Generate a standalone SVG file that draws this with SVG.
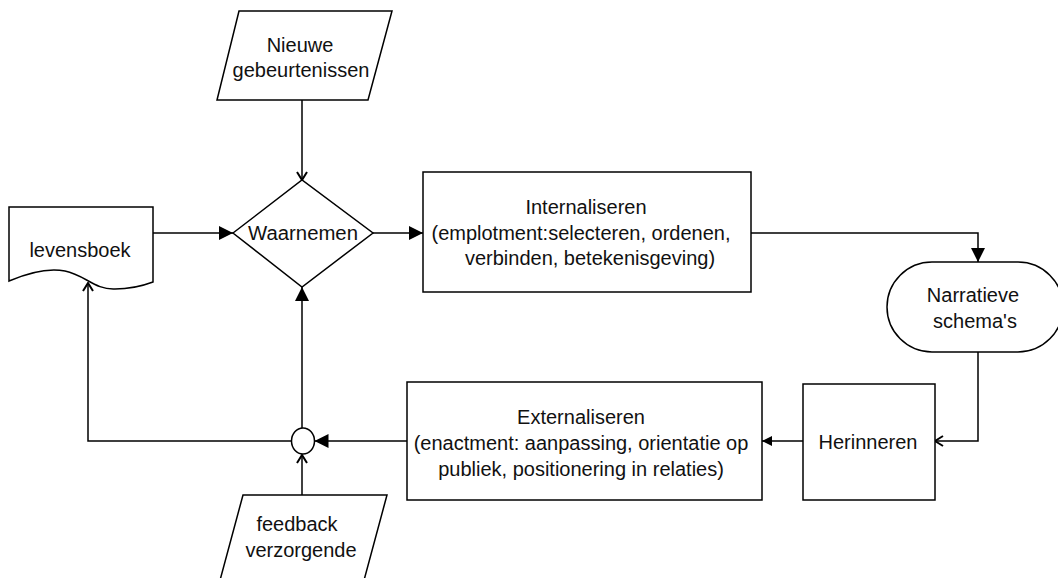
<svg xmlns="http://www.w3.org/2000/svg" width="1058" height="578" viewBox="0 0 1058 578">
<style>
.s{fill:#fff;stroke:#000;stroke-width:1.5}
.c{fill:none;stroke:#000;stroke-width:1.5}
text{font-family:"Liberation Sans",Arial,sans-serif;font-size:20px;fill:#111;text-anchor:middle}
</style>
<defs>
<marker id="fa" markerUnits="userSpaceOnUse" markerWidth="14" markerHeight="14" viewBox="0 0 12 12" refX="12" refY="6" orient="auto">
<path d="M0,0 L12,6 L0,12 Z" fill="#000"/>
</marker>
<marker id="fs" markerUnits="userSpaceOnUse" markerWidth="10" markerHeight="10" viewBox="0 0 12 12" refX="12" refY="6" orient="auto">
<path d="M0,0 L12,6 L0,12 Z" fill="#000"/>
</marker>
<marker id="oa" markerUnits="userSpaceOnUse" markerWidth="12" markerHeight="12" viewBox="0 0 12 12" refX="11" refY="6" orient="auto">
<path d="M3,1 L11,6 L3,11" fill="none" stroke="#000" stroke-width="2"/>
</marker>
</defs>
<g id="connectors">
<path class="c" d="M302,100 V180" marker-end="url(#oa)"/>
<path class="c" d="M153,233 H233" marker-end="url(#fa)"/>
<path class="c" d="M373,233 H423" marker-end="url(#fa)"/>
<path class="c" d="M751,233 H978 V262" marker-end="url(#fa)"/>
<path class="c" d="M978,352 V441 H935" marker-end="url(#oa)"/>
<path class="c" d="M803,441 H762" marker-end="url(#fs)"/>
<path class="c" d="M407,441 H314.5" marker-end="url(#fa)"/>
<path class="c" d="M291.5,441 H88 V283" marker-end="url(#oa)"/>
<path class="c" d="M302,429 V287" marker-end="url(#fa)"/>
<path class="c" d="M302,495 V455" marker-end="url(#oa)"/>
</g>
<g id="nieuwe">
<polygon class="s" points="239,11 392,11 368,100 217,100"/>
<text x="300" y="52">Nieuwe</text>
<text x="301" y="77">gebeurtenissen</text>
</g>
<g id="levensboek">
<path class="s" d="M9,207 H153 V282 C145,285 130,289 115,289 C95,290 85,275 65,271 C50,268 30,272 9,281 Z"/>
<text x="80" y="257">levensboek</text>
</g>
<g id="waarnemen">
<polygon class="s" points="233,233 302,180 373,233 302,287"/>
<text x="303" y="240" textLength="110" lengthAdjust="spacingAndGlyphs">Waarnemen</text>
</g>
<g id="internaliseren">
<rect class="s" x="423" y="172" width="328" height="120"/>
<text x="586" y="214">Internaliseren</text>
<text x="581" y="240">(emplotment:selecteren, ordenen,</text>
<text x="590" y="265">verbinden, betekenisgeving)</text>
</g>
<g id="narratieve">
<rect class="s" x="887" y="262" width="176" height="90" rx="45" ry="45"/>
<text x="973" y="302">Narratieve</text>
<text x="975" y="328">schema's</text>
</g>
<g id="herinneren">
<rect class="s" x="803" y="384" width="132" height="116"/>
<text x="868" y="449">Herinneren</text>
</g>
<g id="externaliseren">
<rect class="s" x="407" y="382" width="355" height="118"/>
<text x="581" y="424">Externaliseren</text>
<text x="581" y="450">(enactment: aanpassing, orientatie op</text>
<text x="581" y="476">publiek, positionering in relaties)</text>
</g>
<g id="junction">
<ellipse class="s" cx="303" cy="441" rx="11.5" ry="13"/>
</g>
<g id="feedback">
<polygon class="s" points="243,495 387,495 363,584 219,584"/>
<text x="297" y="531">feedback</text>
<text x="301" y="557">verzorgende</text>
</g>
</svg>
